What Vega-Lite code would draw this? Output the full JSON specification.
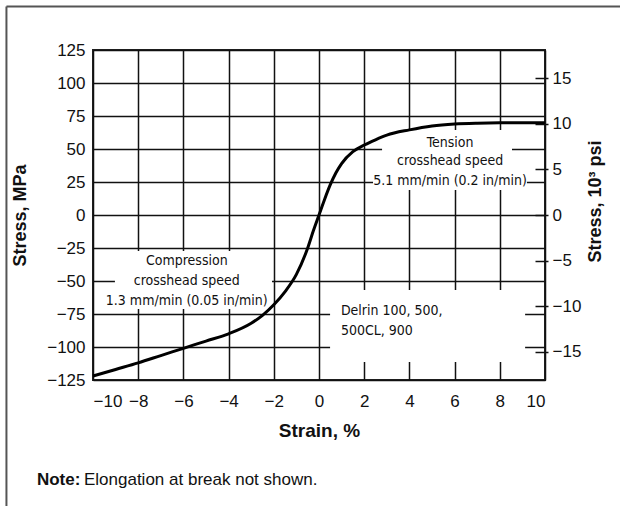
{
  "$schema": "https://vega.github.io/schema/vega-lite/v6.json",
  "autosize": {"type": "none"},
  "width": 452,
  "height": 330,
  "padding": {"left": 93, "top": 50, "right": 75, "bottom": 126},
  "background": "white",
  "config": {
    "font": "Liberation Sans",
    "view": {"stroke": "#222", "strokeWidth": 2},
    "axisLeft": {"grid": true, "gridColor": "#111", "gridWidth": 1.5, "gridOpacity": 1, "domain": false, "ticks": false, "labelFontSize": 17, "labelColor": "#111", "labelPadding": 8, "titleFontSize": 18, "titleFontWeight": "bold", "titleColor": "#111", "titlePadding": 17},
    "axisBottom": {"grid": true, "gridColor": "#111", "gridWidth": 1.5, "gridOpacity": 1, "domain": false, "ticks": false, "labelFontSize": 17, "labelColor": "#111", "labelPadding": 13, "titleFontSize": 19, "titleFontWeight": "bold", "titleColor": "#111", "titlePadding": 12},
    "axisRight": {"grid": false, "domain": false, "ticks": true, "tickSize": 13, "tickColor": "#111", "tickWidth": 1.5, "offset": -10, "labelFontSize": 17, "labelColor": "#111", "labelPadding": 4, "titleFontSize": 18, "titleFontWeight": "bold", "titleColor": "#111", "titlePadding": 6, "titleAngle": 270, "titleBaseline": "top", "titleY": 151}
  },
  "datasets": {
    "curve": [
      {"x": -10, "y": -122}, {"x": -9, "y": -117}, {"x": -8, "y": -112}, {"x": -7, "y": -106.5},
      {"x": -6, "y": -101}, {"x": -5, "y": -95.5}, {"x": -4, "y": -90}, {"x": -3, "y": -82},
      {"x": -2.5, "y": -76}, {"x": -2, "y": -68}, {"x": -1.5, "y": -58}, {"x": -1, "y": -45},
      {"x": -0.5, "y": -25}, {"x": -0.25, "y": -12}, {"x": 0, "y": 0}, {"x": 0.25, "y": 12},
      {"x": 0.5, "y": 23}, {"x": 0.75, "y": 32}, {"x": 1, "y": 39}, {"x": 1.5, "y": 48},
      {"x": 2, "y": 53}, {"x": 2.5, "y": 57}, {"x": 3, "y": 60.5}, {"x": 4, "y": 64.5},
      {"x": 5, "y": 67.5}, {"x": 6, "y": 69}, {"x": 7, "y": 69.6}, {"x": 8, "y": 69.8}, {"x": 10, "y": 69.8}
    ],
    "masks": [
      {"x": -9.03, "x2": -2.08, "y": -27.3, "y2": -71.2},
      {"x": 2.79, "x2": 8.54, "y": 64.4, "y2": 32.6},
      {"x": 2.39, "x2": 9.2, "y": 32.6, "y2": 18.9},
      {"x": 0.49, "x2": 9.12, "y": -56.8, "y2": -111.4}
    ],
    "centered": [
      {"x": -5.85, "y": -34.8, "text": "Compression"},
      {"x": -5.85, "y": -50, "text": "crosshead speed"},
      {"x": -5.85, "y": -65.2, "text": "1.3 mm/min (0.05 in/min)"},
      {"x": 5.8, "y": 54.9, "text": "Tension"},
      {"x": 5.8, "y": 40.9, "text": "crosshead speed"},
      {"x": 5.8, "y": 25.8, "text": "5.1 mm/min (0.2 in/min)"}
    ],
    "left": [
      {"x": 0.97, "y": -72.7, "text": "Delrin 100, 500,"},
      {"x": 0.97, "y": -87.9, "text": "500CL, 900"}
    ],
    "notebold": [{"x": -12.48, "y": -200.8, "text": "Note:"}],
    "note": [{"x": -10.4, "y": -200.8, "text": "Elongation at break not shown."}],
    "frameTop": [{"x": -13.83, "x2": 14, "y": 158}],
    "frameLeft": [{"x": -13.83, "y": 158, "y2": -240}],
    "ksi": [{"ksi": -18.13}, {"ksi": 18.13}]
  },
  "resolve": {"scale": {"y": "independent"}, "axis": {"y": "independent"}},
  "layer": [
    {
      "encoding": {
        "x": {"field": "x", "type": "quantitative", "title": "Strain, %", "scale": {"domain": [-10, 10], "nice": false, "zero": false}, "axis": {"values": [-10, -8, -6, -4, -2, 0, 2, 4, 6, 8, 10], "orient": "bottom"}},
        "y": {"field": "y", "type": "quantitative", "title": "Stress, MPa", "scale": {"domain": [-125, 125], "nice": false, "zero": false}, "axis": {"values": [-125, -100, -75, -50, -25, 0, 25, 50, 75, 100, 125], "orient": "left"}}
      },
      "layer": [
        {"data": {"name": "masks"}, "mark": {"type": "rect", "fill": "white", "stroke": null}, "encoding": {"x2": {"field": "x2"}, "y2": {"field": "y2"}}},
        {"data": {"name": "curve"}, "mark": {"type": "line", "color": "#000", "strokeWidth": 3, "interpolate": "monotone"}},
        {"data": {"name": "centered"}, "mark": {"type": "text", "font": "DejaVu Sans Condensed, Roboto Condensed, Roboto", "fontSize": 14, "align": "center", "baseline": "middle", "color": "#111"}, "encoding": {"text": {"field": "text"}}},
        {"data": {"name": "left"}, "mark": {"type": "text", "font": "DejaVu Sans Condensed, Roboto Condensed, Roboto", "fontSize": 14, "align": "left", "baseline": "middle", "color": "#111"}, "encoding": {"text": {"field": "text"}}},
        {"data": {"name": "notebold"}, "mark": {"type": "text", "fontSize": 17, "fontWeight": "bold", "align": "left", "baseline": "middle", "color": "#111"}, "encoding": {"text": {"field": "text"}}},
        {"data": {"name": "note"}, "mark": {"type": "text", "fontSize": 17, "align": "left", "baseline": "middle", "color": "#111"}, "encoding": {"text": {"field": "text"}}},
        {"data": {"name": "frameTop"}, "mark": {"type": "rule", "color": "#555", "strokeWidth": 2}, "encoding": {"x2": {"field": "x2"}}},
        {"data": {"name": "frameLeft"}, "mark": {"type": "rule", "color": "#555", "strokeWidth": 2}, "encoding": {"y2": {"field": "y2"}}}
      ]
    },
    {
      "data": {"name": "ksi"},
      "mark": {"type": "point", "opacity": 0},
      "encoding": {
        "y": {"field": "ksi", "type": "quantitative", "title": "Stress, 10³ psi", "scale": {"domain": [-18.13, 18.13], "nice": false, "zero": false}, "axis": {"orient": "right", "values": [-15, -10, -5, 0, 5, 10, 15]}}
      }
    }
  ]
}
